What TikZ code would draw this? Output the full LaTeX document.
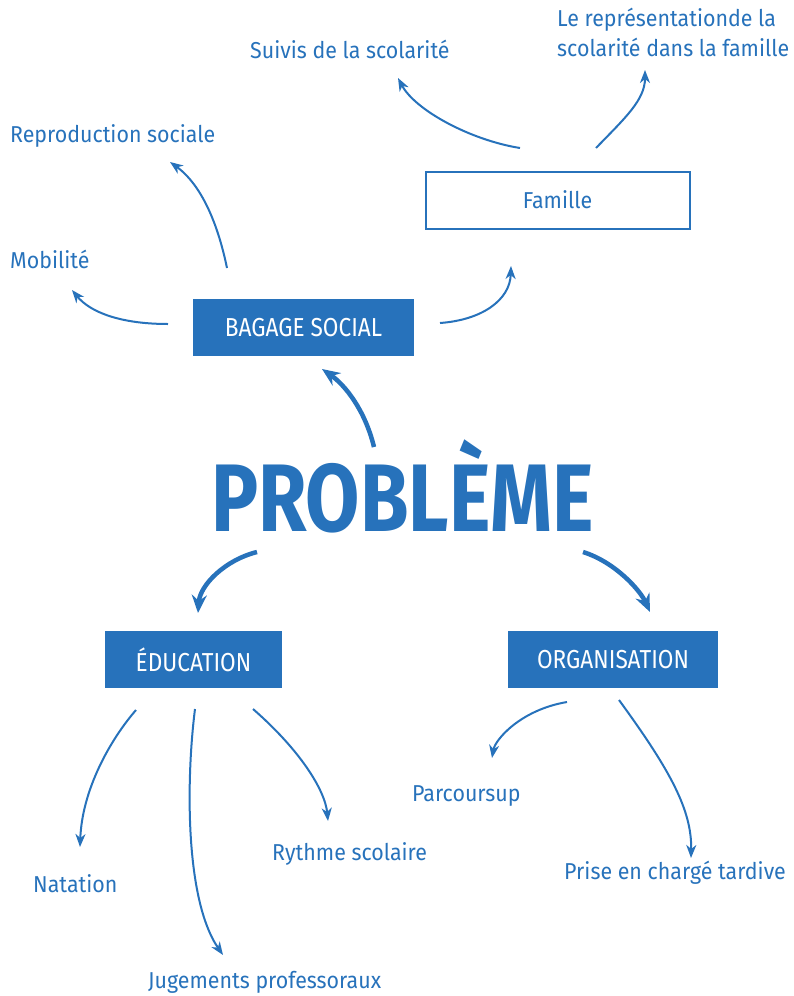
\documentclass[tikz,border=0pt]{standalone}
\usepackage{fontspec}
\setmainfont{Fira Sans}[FakeStretch=0.93]
\newfontfamily\capsfont{Fira Sans}[FakeStretch=0.87]
\newfontfamily\bigfont{Fira Sans}[FakeStretch=0.82]
\usetikzlibrary{arrows.meta}
\definecolor{mblue}{RGB}{39,114,187}
\tikzset{
  fillbox/.style={fill=mblue, text=white, inner sep=0pt, font=\capsfont\fontsize{26}{30}\selectfont},
  linebox/.style={draw=mblue, line width=2pt, fill=white, text=mblue, inner sep=0pt, font=\fontsize{23}{27}\selectfont},
  lbl/.style={text=mblue, inner sep=0pt, anchor=base west, font=\fontsize{23}{30}\selectfont},
  arr/.style={draw=mblue, line width=2pt, -{Stealth[length=13pt,width=10pt,inset=4pt]}},
  thick arr/.style={draw=mblue, line width=4.5pt, -{Stealth[length=18pt,width=15pt,inset=6pt]}},
}
\begin{document}
\begin{tikzpicture}[x=1pt,y=-1pt]
\useasboundingbox (0,0) rectangle (793,996);
% boxes
\node[fillbox, minimum width=221pt, minimum height=57pt] (bag) at (303.5,327.5) {BAGAGE SOCIAL};
\node[linebox, minimum width=264pt, minimum height=57pt] (fam) at (557.5,200) {Famille};
\node[fillbox, minimum width=177pt, minimum height=57pt] (edu) at (193.5,659.5) {ÉDUCATION};
\node[fillbox, minimum width=210pt, minimum height=57pt] (org) at (613,659.5) {ORGANISATION};
\node[text=mblue, inner sep=0pt, font=\bigfont\bfseries\fontsize{96}{100}\selectfont] (prob) at (402.5,486) {PROBLÈME};
% labels
\node[lbl] (suivis) at (250,58) {Suivis de la scolarité};
\node[lbl, align=left, anchor=north west] (rep) at (557,8) {Le représentationde la\\scolarité dans la famille};
\node[lbl] (repro) at (10,142) {Reproduction sociale};
\node[lbl] (mob) at (10,268) {Mobilité};
\node[lbl] (nat) at (33,892) {Natation};
\node[lbl] (jug) at (148,988) {Jugements professoraux};
\node[lbl] (ryt) at (272,860) {Rythme scolaire};
\node[lbl] (parc) at (412,801) {Parcoursup};
\node[lbl] (prise) at (564,879) {Prise en chargé tardive};
% connector ends
\coordinate (fam-s1) at (520,148); \coordinate (suivis-t) at (398,78);
\coordinate (fam-s2) at (596,148); \coordinate (rep-t) at (645,70);
\coordinate (bag-s1) at (227,268); \coordinate (repro-t) at (170,162);
\coordinate (bag-s2) at (168,324); \coordinate (mob-t) at (72,290);
\coordinate (bag-s3) at (440,323); \coordinate (fam-t) at (511,266);
\coordinate (prob-s1) at (374,447); \coordinate (bag-t) at (322,369);
\coordinate (prob-s2) at (257,552); \coordinate (edu-t) at (198,613);
\coordinate (prob-s3) at (583,552); \coordinate (org-t) at (650,612);
\coordinate (edu-s1) at (136,710); \coordinate (nat-t) at (80,847);
\coordinate (edu-s2) at (195,709); \coordinate (jug-t) at (223,955);
\coordinate (edu-s3) at (253,709); \coordinate (ryt-t) at (328,821);
\coordinate (org-s1) at (567,702); \coordinate (parc-t) at (492,758);
\coordinate (org-s2) at (619,700); \coordinate (prise-t) at (691,858);
% connectors
\draw[arr] (fam-s1) .. controls (470,140) and (415,110) .. (suivis-t);
\draw[arr] (fam-s2) .. controls (625,118) and (645,100) .. (rep-t);
\draw[arr] (bag-s1) .. controls (215,210) and (195,180) .. (repro-t);
\draw[arr] (bag-s2) .. controls (120,324) and (90,312) .. (mob-t);
\draw[arr] (bag-s3) .. controls (482,320) and (510,300) .. (fam-t);
\draw[thick arr] (prob-s1) .. controls (365,410) and (345,385) .. (bag-t);
\draw[thick arr] (prob-s2) .. controls (225,560) and (200,585) .. (edu-t);
\draw[thick arr] (prob-s3) .. controls (615,562) and (640,590) .. (org-t);
\draw[arr] (edu-s1) .. controls (110,740) and (82,790) .. (nat-t);
\draw[arr] (edu-s2) .. controls (186,780) and (185,900) .. (jug-t);
\draw[arr] (edu-s3) .. controls (300,750) and (325,790) .. (ryt-t);
\draw[arr] (org-s1) .. controls (520,710) and (495,740) .. (parc-t);
\draw[arr] (org-s2) .. controls (670,770) and (692,810) .. (prise-t);
\end{tikzpicture}
\end{document}
